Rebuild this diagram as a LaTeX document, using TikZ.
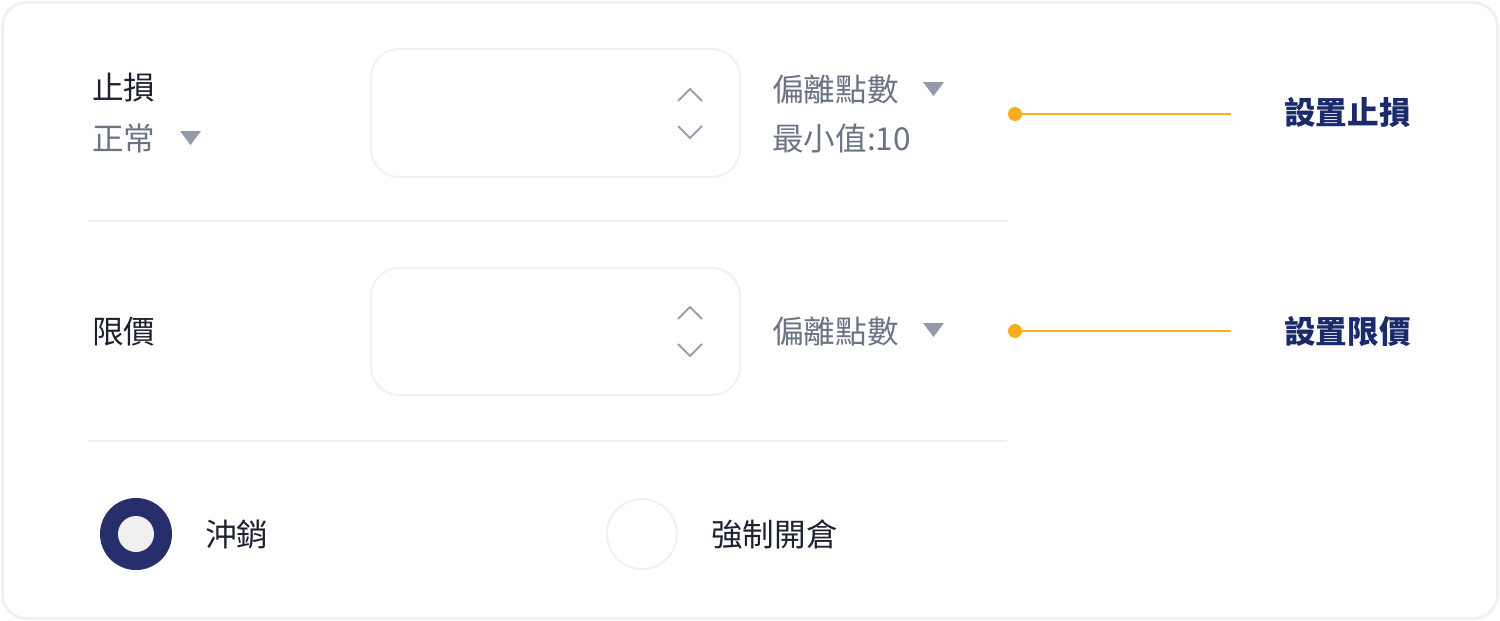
\documentclass[tikz,border=0pt]{standalone}
\usepackage{fontspec}
\newfontfamily\cjk{Noto Sans CJK TC}
\definecolor{frameC}{HTML}{F0F1F5}
\definecolor{sepC}{HTML}{F0F1F4}
\definecolor{darkT}{HTML}{1E2130}
\definecolor{grayT}{HTML}{6B7385}
\definecolor{triC}{HTML}{9399A8}
\definecolor{chevC}{HTML}{9AA0B0}
\definecolor{navyT}{HTML}{1B2A6B}
\definecolor{radioC}{HTML}{262F6C}
\definecolor{innerC}{HTML}{F0F0F0}
\definecolor{orangeC}{HTML}{F8AE1C}
\tikzset{
  txt/.style={anchor=west,inner sep=0pt,font=\cjk\fontsize{31.6}{36}\selectfont},
  dark/.style={txt,text=darkT},
  gray/.style={txt,text=grayT},
  bold/.style={txt,text=navyT,font=\cjk\bfseries\fontsize{31.6}{36}\selectfont},
  inbox/.style={draw=frameC,line width=2pt,rounded corners=28pt,fill=white},
  sepline/.style={draw=sepC,line width=2pt},
  chev/.style={draw=chevC,line width=2pt},
  tri/.style={fill=triC,draw=none},
  odot/.style={circle,fill=orangeC,inner sep=0pt,minimum size=14pt},
  oline/.style={draw=orangeC,line width=2pt},
}
\begin{document}
\begin{tikzpicture}[x=1pt,y=-1pt]
\useasboundingbox (0,0) rectangle (1500,621);
\fill[white] (0,0) rectangle (1500,621);
\draw[frameC,line width=3pt,rounded corners=24pt] (2.5,2.5) rectangle (1497.5,618.5);

% row 1
\node[dark] (sl) at (92,88) {止損};
\node[gray] (norm) at (92,138.5) {正常};
\fill[tri] (180,131) -- (201,131) -- (190.5,145) -- cycle;
\draw[inbox] (371,49) rectangle (740,177);
\draw[chev] (678,101) -- (690,89) -- (702,101);
\draw[chev] (678,126) -- (690,138) -- (702,126);
\node[gray] (dev1) at (772,89) {偏離點數};
\fill[tri] (923,82) -- (944,82) -- (933.5,96) -- cycle;
\node[gray] (min) at (772,138.5) {最小值:10};
\node[odot] (d1) at (1015,114) {};
\coordinate (e1) at (1231,114);
\draw[oline] (d1) -- (e1);
\node[bold] (set1) at (1284,112.5) {設置止損};

\draw[sepline] (88,221) -- (1007,221);

% row 2
\node[dark] (lp) at (92,331.5) {限價};
\draw[inbox] (371,268) rectangle (740,395);
\draw[chev] (678,319) -- (690,307) -- (702,319);
\draw[chev] (678,344) -- (690,356) -- (702,344);
\node[gray] (dev2) at (772,331.5) {偏離點數};
\fill[tri] (923,323) -- (944,323) -- (933.5,337) -- cycle;
\node[odot] (d2) at (1015,331) {};
\coordinate (e2) at (1231,331);
\draw[oline] (d2) -- (e2);
\node[bold] (set2) at (1284,331.5) {設置限價};

\draw[sepline] (88,441) -- (1007,441);

% radios
\fill[radioC] (136,534) circle (36);
\fill[innerC] (136,534) circle (18);
\node[dark] (r1) at (205,534.5) {沖銷};
\draw[frameC,line width=2pt] (642,534) circle (35);
\node[dark] (r2) at (711,534.5) {強制開倉};
\end{tikzpicture}
\end{document}
